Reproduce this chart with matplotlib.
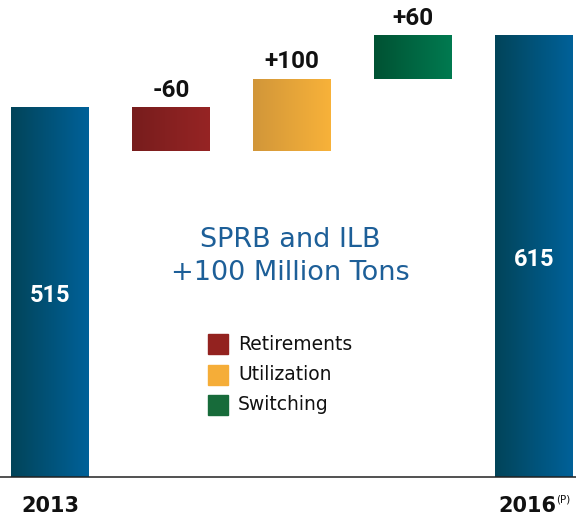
import numpy as np
import matplotlib
matplotlib.use("Agg")
import matplotlib.pyplot as plt
from matplotlib.colors import LinearSegmentedColormap

# ---- data ----
categories = ["2013", "Retirements", "Utilization", "Switching", "2016"]
start_value = 515
changes = [-60, 100, 60]
end_value = 615
change_labels = ["-60", "+100", "+60"]
legend_labels = ["Retirements", "Utilization", "Switching"]
legend_colors = ["#93221f", "#f5ad38", "#176b3a"]
total_gradient = ("#024459", "#006199")
change_gradients = [("#771d1d", "#962424"), ("#d19639", "#f8b23a"), ("#005233", "#007a50")]
center_lines = ["SPRB and ILB", "+100 Million Tons"]

fig = plt.figure(figsize=(5.76, 5.16), dpi=100)
ax = fig.add_axes([0, 39 / 516, 1, 477 / 516])
ax.axis("off")

width = 0.64
label_font = "Roboto"


def grad_bar(x, bottom, height, colors):
    cmap = LinearSegmentedColormap.from_list("g", list(colors))
    grad = np.linspace(0, 1, 256).reshape(1, -1)
    ax.imshow(grad, cmap=cmap, aspect="auto", interpolation="bilinear",
              extent=(x - width / 2, x + width / 2, bottom, bottom + height), zorder=2)


# totals
grad_bar(0, 0, start_value, total_gradient)
grad_bar(4, 0, end_value, total_gradient)
ax.text(0, start_value / 2 - 5, str(start_value), ha="center", va="center", color="white",
        fontsize=17, fontweight="bold", family=label_font, zorder=3)
ax.text(4, end_value / 2 - 4, str(end_value), ha="center", va="center", color="white",
        fontsize=17, fontweight="bold", family=label_font, zorder=3)

# changes
level = start_value
for i, (c, lab, g) in enumerate(zip(changes, change_labels, change_gradients)):
    x = i + 1
    bottom = min(level, level + c)
    grad_bar(x, bottom, abs(c), g)
    ax.text(x, bottom + abs(c) + 8, lab, ha="center", va="bottom", color="#111111",
            fontsize=17.5, fontweight="bold", family=label_font, zorder=3)
    level += c

ax.set_xlim(-0.415, 4.35)
ax.set_ylim(0, 665)

# baseline
ax.plot([-0.415, 4.35], [0, 0], color="#222222", lw=1.1, zorder=4, clip_on=False)

# x labels
fig.text(50 / 576, 1 - 506 / 516, "2013", ha="center", va="center", fontsize=15,
         fontweight="bold", family="DejaVu Sans", color="#111111")
fig.text(527 / 576, 1 - 506 / 516, "2016", ha="center", va="center", fontsize=15,
         fontweight="bold", family="DejaVu Sans", color="#111111")
fig.text(556 / 576, 1 - 500 / 516, "(P)", ha="left", va="center", fontsize=7.5,
         family="DejaVu Sans", color="#111111")

# center annotation
for k, line in enumerate(center_lines):
    fig.text(290 / 576, 1 - (240 + 33 * k) / 516, line, ha="center", va="center",
             fontsize=19.5, family="DejaVu Sans", color="#1d5f98")

# legend
for k, (lab, col) in enumerate(zip(legend_labels, legend_colors)):
    yc = 344 + k * 30.5
    fig.patches.append(plt.Rectangle((208 / 576, 1 - (yc + 10) / 516), 20 / 576, 20 / 516,
                                     transform=fig.transFigure, color=col, figure=fig))
    fig.text(238 / 576, 1 - yc / 516, lab, ha="left", va="center", fontsize=13.5,
             family="DejaVu Sans", color="#111111")

fig.savefig("out.png", dpi=100)
